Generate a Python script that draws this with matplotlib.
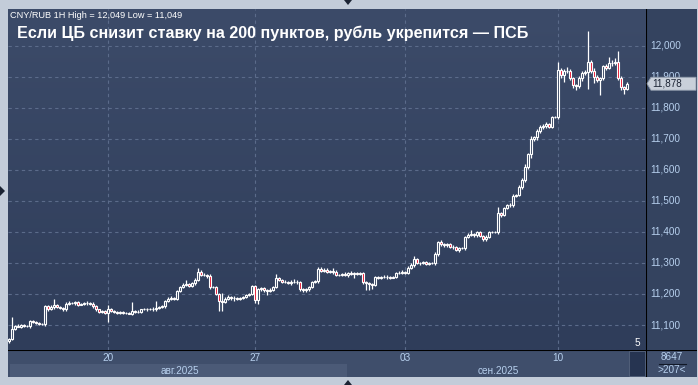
import matplotlib
matplotlib.use("Agg")
import matplotlib.pyplot as plt
import numpy as np
from matplotlib.patches import Polygon, Rectangle
from matplotlib.colors import LinearSegmentedColormap

# hourly closes, thousandths above 11.000
close_k = [
    55, 88, 97, 95, 100, 98, 96, 113, 110, 106,
    104, 103, 160, 152, 158, 165, 158, 155, 150, 168,
    172, 170, 173, 166, 168, 172, 170, 168, 160, 150,
    143, 145, 140, 152, 145, 143, 140, 142, 138, 140,
    137, 146, 142, 143, 150, 152, 150, 153, 150, 156,
    158, 160, 178, 185, 188, 185, 210, 222, 228, 232,
    225, 235, 245, 272, 262, 262, 258, 222, 222, 200,
    178, 175, 185, 190, 186, 188, 185, 187, 190, 196,
    200, 225, 180, 215, 220, 212, 210, 214, 222, 250,
    245, 240, 238, 235, 240, 238, 240, 215, 212, 215,
    222, 240, 242, 282, 275, 278, 272, 275, 272, 262,
    262, 265, 262, 268, 264, 268, 266, 268, 239, 235,
    232, 230, 255, 252, 255, 254, 256, 253, 255, 268,
    268, 270, 267, 285, 294, 313, 300, 300, 302, 298,
    300, 300, 330, 368, 360, 358, 360, 352, 350, 342,
    348, 348, 384, 390, 392, 390, 400, 387, 377, 385,
    400, 400, 400, 461, 455, 477, 487, 487, 516, 520,
    545, 568, 610, 650, 700, 705, 725, 738, 742, 748,
    740, 770, 770, 923, 906, 920, 918, 897, 875, 870,
    896, 912, 916, 948, 920, 900, 890, 895, 935, 930,
    945, 945, 948, 897, 868, 862, 878,
]
first_open_k = 49

wick_up_k = [
    3, 38, 4, 5, 3, 4, 3, 4, 3, 4,
    3, 3, 6, 4, 5, 19, 4, 3, 4, 5,
    4, 3, 5, 3, 4, 3, 4, 3, 5, 4,
    3, 4, 3, 12, 3, 4, 3, 3, 4, 3,
    3, 28, 3, 4, 3, 4, 3, 3, 4, 21,
    4, 3, 4, 5, 6, 3, 4, 4, 6, 13,
    4, 5, 6, 12, 4, 5, 3, 6, 4, 3,
    3, 25, 4, 6, 5, 4, 3, 4, 5, 4,
    4, 3, 4, 5, 4, 3, 4, 5, 3, 14,
    4, 3, 5, 4, 6, 8, 4, 3, 4, 3,
    4, 3, 4, 4, 4, 5, 6, 3, 8, 4,
    4, 3, 6, 4, 5, 4, 4, 3, 4, 3,
    4, 3, 4, 3, 4, 5, 4, 3, 4, 4,
    5, 6, 4, 5, 6, 10, 4, 3, 4, 3,
    3, 4, 5, 4, 5, 4, 4, 3, 5, 4,
    4, 5, 4, 8, 14, 6, 4, 4, 3, 5,
    4, 3, 4, 19, 4, 5, 4, 6, 5, 4,
    5, 6, 8, 6, 10, 6, 8, 6, 5, 6,
    5, 4, 3, 25, 6, 5, 12, 8, 4, 3,
    6, 8, 5, 101, 8, 10, 5, 4, 5, 6,
    20, 8, 12, 34, 5, 3, 6,
]
wick_dn_k = [
    6, 2, 4, 3, 5, 3, 4, 5, 3, 4,
    3, 4, 5, 6, 4, 5, 3, 4, 6, 5,
    4, 3, 4, 5, 3, 4, 5, 3, 4, 5,
    4, 3, 5, 30, 4, 3, 4, 5, 3, 4,
    3, 4, 3, 4, 5, 3, 4, 3, 4, 5,
    4, 3, 5, 4, 3, 4, 3, 5, 4, 3,
    4, 3, 5, 4, 3, 4, 6, 5, 4, 3,
    33, 30, 5, 4, 6, 10, 5, 4, 3, 4,
    3, 4, 10, 12, 5, 6, 14, 5, 4, 3,
    4, 5, 3, 4, 6, 4, 5, 6, 4, 5,
    4, 3, 5, 6, 4, 5, 3, 4, 6, 4,
    5, 4, 3, 6, 4, 12, 5, 4, 6, 21,
    19, 15, 5, 4, 3, 4, 5, 4, 3, 4,
    4, 5, 3, 4, 5, 6, 4, 5, 4, 3,
    3, 4, 5, 6, 4, 5, 6, 4, 5, 4,
    5, 4, 6, 5, 4, 6, 5, 4, 6, 5,
    4, 3, 4, 5, 6, 5, 4, 6, 5, 4,
    5, 6, 8, 6, 10, 6, 8, 6, 5, 6,
    5, 4, 3, 6, 8, 22, 6, 8, 10, 12,
    6, 8, 5, 54, 8, 20, 5, 48, 6, 8,
    5, 10, 8, 6, 10, 17, 5,
]

day_pos = [33, 82, 132, 183]
day_labels = ["20", "27", "03", "10"]
month_labels = ["авг.2025", "сен.2025"]
price_ticks = [11.1, 11.2, 11.3, 11.4, 11.5, 11.6, 11.7, 11.8, 11.9, 12.0]
title = "Если ЦБ снизит ставку на 200 пунктов, рубль укрепится — ПСБ"
header = "CNY/RUB 1H High = 12,049 Low = 11,049"

W, H = 698, 385
FRAME = "#c3ccd9"
BG_TOP = "#3c4b69"
BG_BOT = "#2f3d5a"
GRID = "#5b6b8a"
LABEL = "#b7d0ee"
RED = "#e5132f"
FS = 7.2

plt.rcParams["font.family"] = ["Liberation Sans", "DejaVu Sans"]

closes = 11 + np.array(close_k) / 1000
opens = np.r_[11 + first_open_k / 1000, closes[:-1]]
highs = np.maximum(opens, closes) + np.array(wick_up_k) / 1000
lows = np.minimum(opens, closes) - np.array(wick_dn_k) / 1000
idx = np.arange(len(closes))
last = closes[-1]


def px(x0, y0, x1, y1):
    # figure rect from a pixel box (top-left origin)
    return [x0 / W, 1 - y1 / H, (x1 - x0) / W, (y1 - y0) / H]


def bare(a):
    a.set_xticks([])
    a.set_yticks([])
    for s in a.spines.values():
        s.set_visible(False)


fig = plt.figure(figsize=(W / 100, H / 100), dpi=100, facecolor=FRAME)

ylo, yhi = 11.0194, 12.119
xlo, xhi = -0.4, 212.3

ax = fig.add_axes(px(8, 9, 646, 350))
ax.set_xlim(xlo, xhi)
ax.set_ylim(ylo, yhi)
grad = np.linspace(0, 1, 256).reshape(-1, 1)
cmap = LinearSegmentedColormap.from_list("bg", [BG_BOT, BG_TOP])
ax.imshow(grad, extent=[xlo, xhi, ylo, yhi], origin="lower", aspect="auto",
          cmap=cmap, zorder=0)
for v in price_ticks:
    ax.axhline(v, color=GRID, lw=0.8, ls=(0, (3, 3)), zorder=1)
for d in day_pos:
    ax.axvline(d, color=GRID, lw=0.8, ls=(0, (3, 3)), zorder=1)

ax.vlines(idx, lows, highs, color="white", lw=0.9, zorder=2)
up = closes >= opens
fills = np.where(up, "#34435f", RED)
ax.bar(idx, np.abs(closes - opens), bottom=np.minimum(opens, closes), width=0.72,
       color=fills, edgecolor="white", linewidth=0.8, zorder=3)
bare(ax)

fig.text(10 / W, 1 - 15 / H, header, color="white", fontsize=6.6, va="center")
fig.text(17 / W, 1 - 33 / H, title, color="white", fontsize=11.6,
         fontweight="bold", va="center")

# price axis panel
pa = fig.add_axes(px(646, 9, 697, 350))
pa.set_facecolor("#34435f")
pa.set_xlim(0, 51)
pa.set_ylim(ylo, yhi)
bare(pa)
pa.axvline(0, color="black", lw=1.5)
for v in price_ticks:
    pa.text(4, v, f"{v:.3f}".replace(".", ","), color=LABEL, fontsize=FS,
            va="center", ha="left")
hh = 6.5 / 310
pa.add_patch(Polygon([[1, last], [5, last + hh], [50, last + hh], [50, last - hh],
                      [5, last - hh]], closed=True, facecolor="#c9d0da",
                     edgecolor="#8f9aab", lw=0.6, zorder=5))
pa.text(6, last, f"{last:.3f}".replace(".", ","), color="#1c2434", fontsize=FS,
        va="center", ha="left", zorder=6)

# date strip
da = fig.add_axes(px(8, 350, 646, 364))
da.set_facecolor("#3f4e6b")
da.set_xlim(xlo, xhi)
da.set_ylim(0, 1)
bare(da)
da.axhline(1, color="black", lw=1.5)
for d, lab in zip(day_pos, day_labels):
    da.text(d, 0.45, lab, color=LABEL, fontsize=FS, ha="center", va="center")

ma = fig.add_axes(px(8, 364, 646, 377))
ma.set_facecolor("#3f4e6b")
ma.set_xlim(8, 646)
ma.set_ylim(0, 1)
bare(ma)
ma.add_patch(Rectangle((10, 0), 337, 1, facecolor="#4b5a77", lw=0))
ma.text(180, 0.5, month_labels[0], color=LABEL, fontsize=FS, ha="center", va="center")
ma.text(498, 0.5, month_labels[1], color=LABEL, fontsize=FS, ha="center", va="center")

# scroll box and counter
fig.patches.append(Rectangle((629 / W, 1 - 376 / H), 16 / W, 25 / H,
                             transform=fig.transFigure, facecolor="#263451",
                             edgecolor="#56647e", lw=0.6))
fig.text(637 / W, 1 - 343 / H, "5", color="white", fontsize=FS, ha="center", va="center")

ra = fig.add_axes(px(646, 350, 697, 377))
ra.set_facecolor("#3f4e6b")
ra.set_xlim(0, 51)
ra.set_ylim(0, 27)
bare(ra)
ra.axvline(0, color="black", lw=1.5)
ra.axhline(27, color="black", lw=1.5)
ra.text(26, 20, "8647", color=LABEL, fontsize=FS, ha="center", va="center")
ra.plot([13, 40], [13, 13], color="#111827", lw=0.8)
ra.text(26, 7, ">207<", color=LABEL, fontsize=FS, ha="center", va="center")

# little navigation triangles
for pts in ([(344, 0), (352, 0), (348, 5)], [(344, 385), (352, 385), (348, 380)],
            [(0, 186), (0, 196), (5, 191)]):
    fig.patches.append(Polygon([(x / W, 1 - y / H) for x, y in pts], closed=True,
                               transform=fig.transFigure, facecolor="#1b2333", lw=0))

fig.savefig("out.png", dpi=100, facecolor=FRAME)
